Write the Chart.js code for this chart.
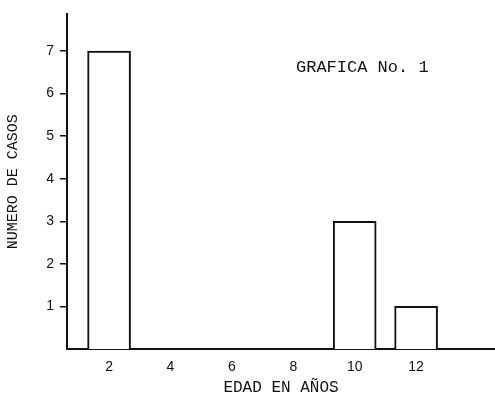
<!DOCTYPE html>
<html>
<head>
<meta charset="utf-8">
<script src="https://cdn.jsdelivr.net/npm/chart.js@4"></script>
<style>
  html, body { margin: 0; padding: 0; background: #fff; }
  #wrap { width: 495px; height: 401px; }
</style>
</head>
<body>
<div id="wrap"><canvas id="casosChart" width="495" height="401"></canvas></div>
<script>
const ages = [2, 4, 6, 8, 10, 12];
const counts = [7, 0, 0, 0, 3, 1];
const yTicks = [1, 2, 3, 4, 5, 6, 7];
const chartTitle = 'GRAFICA No. 1';

const mono = 'Liberation Mono';
const sans = 'Liberation Sans';

// title sits inside the plot, like the typed label on the original sheet
const innerTitle = {
  id: 'innerTitle',
  afterDraw(chart) {
    const ctx = chart.ctx;
    ctx.save();
    ctx.fillStyle = '#111';
    ctx.font = '17px "' + mono + '"';
    ctx.textBaseline = 'alphabetic';
    ctx.fillText(chartTitle, 296, 72);
    ctx.restore();
  }
};

new Chart(document.getElementById('casosChart'), {
  type: 'bar',
  data: {
    datasets: [{
      data: ages.map((a, i) => ({ x: a, y: counts[i] })),
      backgroundColor: '#fff',
      borderColor: '#111',
      borderWidth: 2,
      barThickness: 43
    }]
  },
  options: {
    responsive: false,
    animation: false,
    layout: { padding: { top: 10, left: 0, right: 0, bottom: 0 } },
    plugins: {
      legend: { display: false },
      tooltip: { enabled: false }
    },
    scales: {
      x: {
        type: 'linear',
        offset: false,
        min: 0.63,
        max: 14.57,
        afterBuildTicks: axis => { axis.ticks = ages.map(v => ({ value: v })); },
        afterFit: axis => { axis.height = 52; },
        grid: { display: false, drawTicks: false },
        border: { color: '#111', width: 2 },
        ticks: {
          color: '#111',
          padding: 10,
          maxRotation: 0,
          font: { family: sans, size: 14 }
        },
        title: {
          display: true,
          text: 'EDAD EN AÑOS',
          color: '#111',
          padding: { top: 10 },
          font: { family: mono, size: 16 }
        }
      },
      y: {
        min: 0,
        max: 7.86,
        afterBuildTicks: axis => { axis.ticks = yTicks.map(v => ({ value: v })); },
        afterFit: axis => { axis.width = 67; },
        grid: {
          display: true,
          drawOnChartArea: false,
          drawTicks: true,
          tickLength: 7,
          color: '#111',
          lineWidth: 1.5
        },
        border: { color: '#111', width: 2 },
        ticks: {
          color: '#111',
          padding: 6,
          font: { family: sans, size: 14 }
        },
        title: {
          display: true,
          text: 'NUMERO DE CASOS',
          color: '#111',
          padding: { bottom: 4 },
          font: { family: mono, size: 15 }
        }
      }
    }
  },
  plugins: [innerTitle]
});
</script>
</body>
</html>
